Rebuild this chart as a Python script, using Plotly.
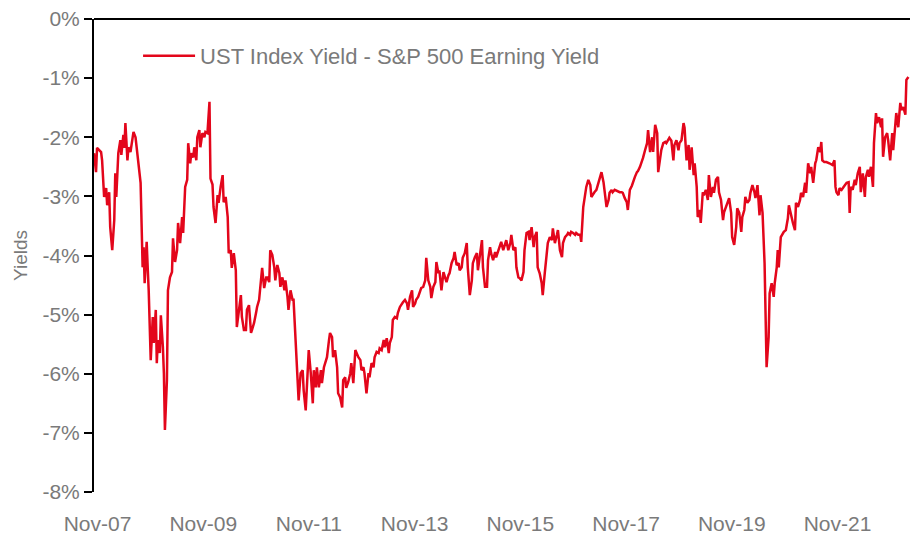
import numpy as np
import pandas as pd
import plotly.graph_objects as go

SERIES_NAME = "UST Index Yield - S&P 500 Earning Yield"
START_DATE = "2007-10-08"   # week 0 of the weekly series

# weeks since START_DATE
weeks_a = [0,2,3,7,8,10,12,13,15,16,
           18,20,21,22,24,26,27,29,30,31,
           33,34,36,38,39,41,43,44,46,48,
           49,50,52,53,54,56,58,59,61,62,
           63,65,66,68,69,70,72,73,75,77,
           78,80,82,83,85,87,88,90,92,93,
           95,96,98,99,101,102,104,105,107,109,
           110,112,114]
values_a = [-2.27,-2.59,-2.18,-2.25,-2.39,-3.01,-2.86,-3.15,-2.93,-3.52,
            -3.91,-3.40,-2.61,-3.01,-2.27,-2.05,-2.30,-1.96,-2.18,-1.76,
            -2.39,-2.17,-2.25,-2.00,-1.91,-2.00,-2.34,-2.44,-2.77,-4.20,
            -3.86,-4.47,-3.77,-4.20,-4.59,-5.77,-5.04,-5.48,-4.92,-5.82,
            -5.43,-5.65,-5.01,-5.55,-5.99,-6.95,-6.11,-4.59,-4.37,-4.28,
            -3.71,-4.11,-3.91,-3.45,-3.79,-3.35,-3.62,-2.84,-2.72,-2.10,
            -2.44,-2.27,-2.34,-2.17,-2.39,-2.00,-1.88,-2.17,-1.93,-2.00,
            -1.91,-1.93,-1.40]

weeks_b = [115,117,118,120,122,123,125,127,128,130,
           132,133,135,136,138,140,141,143,145,146,
           148,150,151,153,155,156,158,160,161,163,
           165,166,168,170,171,173,174,176,178,179,
           181,183,184,186,188,189,191,192,194,196,
           197,199,201,202,204,206,207,209,211,212,
           214,216,217,219,220,222,224,225,227]
values_b = [-2.70,-2.80,-3.18,-3.45,-2.98,-3.11,-2.84,-2.64,-3.10,-3.01,
            -3.35,-3.96,-3.91,-4.21,-3.96,-4.25,-5.21,-4.97,-4.67,-5.04,
            -5.26,-5.26,-4.92,-4.84,-5.31,-5.26,-5.14,-4.97,-4.87,-4.75,
            -4.30,-4.21,-4.55,-4.37,-4.37,-4.45,-3.91,-3.99,-4.20,-4.42,
            -4.16,-4.30,-4.53,-4.37,-4.59,-4.42,-4.70,-4.92,-4.59,-4.75,
            -4.75,-5.43,-5.89,-6.45,-5.99,-5.94,-6.28,-6.62,-5.94,-5.60,
            -5.99,-6.50,-5.94,-6.23,-5.89,-6.23,-5.94,-6.16,-5.89]

weeks_c = [229,230,232,233,235,236,238,240,241,243,
           245,246,248,249,251,253,254,256,258,259,
           261,263,264,266,267,269,271,272,274,276,
           277,279,281,282,284,286,287,289,291,292,
           294,295,297,299,300,302,304,305,307,309,
           310,312,314,315,317,318,320,322,323,325,
           327,328,330,332,333,335,337,338,340,341]
values_c = [-5.77,-5.72,-5.43,-5.31,-5.38,-5.72,-5.60,-5.89,-6.33,-6.40,
            -6.57,-6.11,-6.06,-6.24,-6.14,-5.99,-5.82,-6.16,-5.60,-5.65,
            -5.72,-5.77,-5.94,-5.89,-5.99,-6.33,-5.99,-6.06,-5.82,-5.89,
            -5.72,-5.63,-5.65,-5.57,-5.60,-5.43,-5.55,-5.40,-5.65,-5.48,
            -5.38,-5.09,-5.04,-5.06,-4.97,-4.87,-4.81,-4.79,-4.75,-4.81,
            -4.92,-4.70,-4.59,-4.87,-4.81,-4.75,-4.70,-4.59,-4.55,-4.53,
            -4.42,-4.04,-4.42,-4.53,-4.72,-4.53,-4.45,-4.11,-4.30,-4.25]

weeks_d = [343,345,346,348,350,351,353,355,356,358,
           360,361,363,364,366,368,369,371,373,374,
           376,378,379,381,383,384,386,388,389,391,
           392,394,396,397,399,401,402,404,406,407,
           409,411,412,414,416,417,419,420,422,424,
           425,427,429,430,432,434,435,437,438,440,
           442,443,445,447,448,450,452,453,455,457,
           458]
values_d = [-4.59,-4.28,-4.33,-4.45,-4.33,-4.30,-4.13,-4.04,-3.94,-4.16,
            -4.13,-4.25,-4.20,-4.04,-3.96,-3.79,-4.20,-4.67,-4.42,-4.13,
            -4.03,-3.96,-4.25,-4.03,-3.74,-4.20,-4.53,-4.53,-4.08,-3.86,
            -3.96,-4.08,-3.94,-4.03,-3.91,-3.82,-3.77,-3.91,-3.79,-3.74,
            -3.91,-3.79,-3.65,-3.91,-3.86,-4.20,-4.37,-4.38,-4.42,-4.28,
            -3.91,-3.62,-3.60,-3.74,-3.52,-3.86,-3.69,-3.60,-4.20,-4.30,
            -4.47,-4.67,-4.30,-3.91,-3.79,-3.69,-3.74,-3.54,-3.79,-3.65,
            -3.57]

weeks_e = [460,462,463,465,467,468,470,471,473,475,
           476,478,480,481,483,485,486,488,490,491,
           493,494,496,498,499,501,503,504,506,508,
           509,511,512,514,516,517,519,521,522,524,
           526,527,529,531,532,534,536,537,539,541,
           542,544,546,547,549,551,552,554,556,557,
           559,560,562,564,565,567,568,570,572]
values_e = [-3.91,-4.03,-3.79,-3.69,-3.65,-3.62,-3.65,-3.60,-3.62,-3.65,
            -3.62,-3.65,-3.65,-3.77,-3.18,-2.98,-2.84,-2.72,-2.81,-3.01,
            -2.94,-2.93,-2.89,-2.77,-2.67,-2.59,-2.76,-2.94,-3.18,-3.06,
            -2.94,-2.89,-2.93,-2.89,-2.91,-2.91,-2.93,-2.93,-2.94,-3.03,
            -3.10,-3.23,-2.89,-2.82,-2.76,-2.67,-2.59,-2.57,-2.50,-2.42,
            -2.35,-2.22,-2.10,-1.88,-2.25,-2.00,-2.25,-1.79,-1.93,-2.59,
            -2.27,-2.22,-2.10,-2.08,-2.10,-2.05,-2.01,-2.06,-2.39]

weeks_f = [573,575,577,578,580,582,583,585,587,588,
           590,592,593,595,596,598,599,601,602,604,
           606,607,609,611,612,614,616,617,619,621,
           622,624,625,627,629,630,632,634,635,637,
           639,640,642,643,645,647,648,650,652,653,
           655,657,658,660,662,663,664,666,667,669,
           671,672,674,675,676,678,680,681,683,685,
           686]
values_f = [-2.13,-2.05,-2.22,-2.10,-2.05,-1.76,-1.84,-2.39,-2.13,-2.55,
            -2.17,-2.64,-2.44,-2.84,-3.35,-3.23,-3.45,-2.93,-2.98,-2.89,
            -3.06,-2.64,-3.01,-2.84,-2.94,-2.72,-2.67,-2.93,-3.06,-3.40,
            -3.27,-3.18,-3.11,-3.03,-3.28,-3.69,-3.82,-3.52,-3.20,-3.28,
            -3.60,-3.35,-3.23,-3.01,-3.11,-3.06,-2.94,-2.81,-2.93,-3.03,
            -2.81,-3.32,-2.98,-3.28,-4.13,-5.09,-5.89,-5.38,-4.64,-4.47,
            -4.70,-4.47,-4.20,-3.91,-4.20,-3.69,-3.62,-3.60,-3.57,-3.37,
            -3.15]

weeks_g = [689,690,692,693,695,697,698,700,702,703,
           705,707,708,710,712,713,715,717,718,719,
           721,723,726,729,731,732,733,735,736,738,
           740,741,743,745,746,747,749,751,752,754,
           756,757,759,761,762,764,765,767,769,770,
           772,773,775,777,778,779,781,783,784,786,
           788,789,791,792,794,796,797,799,801,802,
           804]
values_g = [-3.40,-3.45,-3.57,-3.11,-3.18,-3.06,-2.94,-3.01,-2.77,-2.94,
            -2.44,-2.61,-2.50,-2.77,-2.44,-2.39,-2.17,-2.25,-2.08,-2.39,
            -2.42,-2.42,-2.44,-2.47,-2.39,-2.84,-2.93,-2.98,-2.86,-2.89,
            -2.84,-2.81,-2.77,-2.76,-3.28,-2.84,-2.89,-2.72,-2.81,-2.61,
            -2.50,-2.93,-2.61,-3.01,-2.67,-2.55,-2.67,-2.50,-2.84,-2.10,
            -1.59,-1.76,-1.66,-1.83,-1.68,-2.33,-2.00,-1.93,-2.05,-2.39,
            -1.93,-2.22,-1.71,-1.59,-1.83,-1.42,-1.54,-1.49,-1.62,-1.03,
            -0.98]

y_tick_vals = [0, -1, -2, -3, -4, -5, -6, -7, -8]
y_tick_text = ["0%", "-1%", "-2%", "-3%", "-4%", "-5%", "-6%", "-7%", "-8%"]
x_tick_dates = ["2007-11-01", "2009-11-01", "2011-11-01", "2013-11-01",
                "2015-11-01", "2017-11-01", "2019-11-01", "2021-11-01"]
x_tick_text = ["Nov-07", "Nov-09", "Nov-11", "Nov-13",
               "Nov-15", "Nov-17", "Nov-19", "Nov-21"]
x_range = ["2007-10-08", "2023-03-17"]

weeks = weeks_a + weeks_b + weeks_c + weeks_d + weeks_e + weeks_f + weeks_g
values = values_a + values_b + values_c + values_d + values_e + values_f + values_g
assert len(weeks) == len(values)

dates = pd.to_datetime(START_DATE) + pd.to_timedelta(np.array(weeks) * 7, unit="D")

FONT = "Liberation Sans, Arial, sans-serif"
GRAY = "#7a7a7a"
RED = "#E3061B"

fig = go.Figure()
fig.add_trace(go.Scatter(
    x=dates, y=values, mode="lines", name=SERIES_NAME,
    line=dict(color=RED, width=2.5),
    showlegend=True,
))

fig.update_layout(
    width=917, height=534,
    margin=dict(l=94, r=7, t=19, b=42, pad=0),
    paper_bgcolor="white", plot_bgcolor="white",
    font=dict(family=FONT, color=GRAY, size=21),
    showlegend=True,
    legend=dict(
        x=0.054, y=0.922, xanchor="left", yanchor="middle",
        itemwidth=52,
        bgcolor="rgba(0,0,0,0)", borderwidth=0,
        font=dict(family=FONT, size=22, color=GRAY),
    ),
    xaxis=dict(
        type="date", range=x_range,
        showgrid=False, zeroline=False, showline=False,
        tickvals=x_tick_dates, ticktext=x_tick_text,
        ticks="outside", ticklen=13, tickcolor="rgba(0,0,0,0)",
        tickfont=dict(family=FONT, size=21, color=GRAY),
        automargin=False,
    ),
    yaxis=dict(
        range=[-8, 0],
        showgrid=False, zeroline=False,
        showline=True, linecolor="black", linewidth=2,
        ticks="outside", ticklen=8, tickwidth=2, tickcolor="black",
        tickvals=y_tick_vals, ticktext=y_tick_text,
        tickfont=dict(family=FONT, size=21, color=GRAY),
        title=dict(text="Yields", font=dict(family=FONT, size=19, color=GRAY), standoff=10),
        automargin=False,
    ),
    # horizontal axis line at 0% along the top edge of the plot area
    shapes=[dict(type="line", xref="paper", yref="paper", x0=0, x1=1, y0=1, y1=1,
                 line=dict(color="black", width=2), layer="above")],
)

# remove the default 8px page margin so the figure fills the window exactly
fig.write_html("out.html", config={"displayModeBar": False},
               post_script="document.body.style.margin='0';")
